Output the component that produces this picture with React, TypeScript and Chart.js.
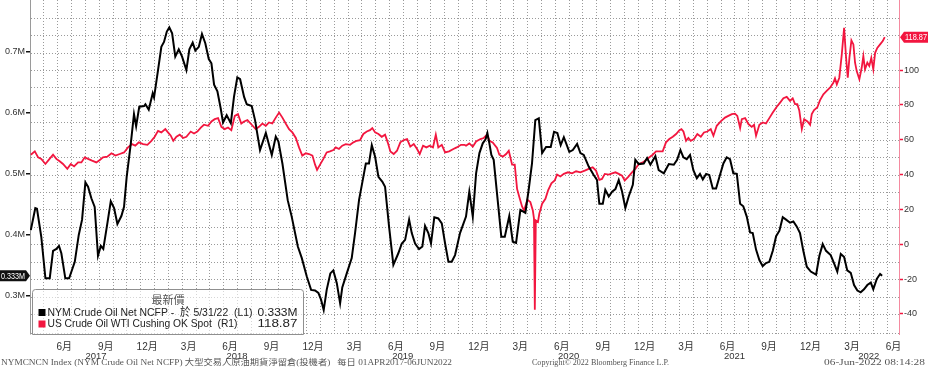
import React, { useEffect, useRef } from "react";
import { Chart, registerables } from "chart.js";
Chart.register(...registerables);

// ---- data (x in decimal years) ----
const ncfpDates = [
  2017.257, 2017.284, 2017.294, 2017.32, 2017.345, 2017.371, 2017.391, 2017.411, 2017.427, 2017.441,
  2017.465, 2017.488, 2017.522, 2017.546, 2017.566, 2017.586, 2017.602, 2017.622, 2017.642, 2017.662,
  2017.679, 2017.694, 2017.718, 2017.739, 2017.759, 2017.779, 2017.803, 2017.819, 2017.835, 2017.86,
  2017.879, 2017.892, 2017.911, 2017.94, 2017.948, 2017.968, 2017.992, 2018.0, 2018.024, 2018.044,
  2018.06, 2018.077, 2018.092, 2018.109, 2018.128, 2018.149, 2018.169, 2018.195, 2018.213, 2018.233,
  2018.249, 2018.27, 2018.289, 2018.309, 2018.33, 2018.346, 2018.362, 2018.382, 2018.402, 2018.416,
  2018.438, 2018.463, 2018.482, 2018.502, 2018.519, 2018.543, 2018.559, 2018.589, 2018.609, 2018.639,
  2018.674, 2018.71, 2018.734, 2018.75, 2018.774, 2018.806, 2018.83, 2018.867, 2018.891, 2018.921,
  2018.947, 2018.971, 2018.991, 2019.007, 2019.023, 2019.041, 2019.063, 2019.081, 2019.102, 2019.122,
  2019.135, 2019.162, 2019.192, 2019.212, 2019.236, 2019.262, 2019.277, 2019.296, 2019.313, 2019.333,
  2019.353, 2019.377, 2019.393, 2019.417, 2019.443, 2019.473, 2019.494, 2019.514, 2019.538, 2019.554,
  2019.574, 2019.598, 2019.618, 2019.634, 2019.654, 2019.67, 2019.69, 2019.714, 2019.735, 2019.755,
  2019.775, 2019.795, 2019.815, 2019.845, 2019.881, 2019.901, 2019.922, 2019.942, 2019.962, 2019.982,
  2019.998, 2020.01, 2020.022, 2020.034, 2020.048, 2020.068, 2020.094, 2020.115, 2020.142, 2020.163,
  2020.183, 2020.209, 2020.239, 2020.259, 2020.279, 2020.299, 2020.32, 2020.34, 2020.364, 2020.392,
  2020.412, 2020.432, 2020.452, 2020.471, 2020.504, 2020.525, 2020.551, 2020.571, 2020.591, 2020.621,
  2020.651, 2020.671, 2020.685, 2020.706, 2020.721, 2020.742, 2020.762, 2020.782, 2020.802, 2020.822,
  2020.842, 2020.862, 2020.887, 2020.902, 2020.923, 2020.953, 2020.973, 2020.993, 2021.023, 2021.043,
  2021.074, 2021.104, 2021.134, 2021.154, 2021.174, 2021.192, 2021.212, 2021.232, 2021.252, 2021.273,
  2021.292, 2021.309, 2021.329, 2021.348, 2021.369, 2021.389, 2021.409, 2021.433, 2021.453, 2021.473,
  2021.493, 2021.514, 2021.534, 2021.553, 2021.574, 2021.594, 2021.61, 2021.63, 2021.65, 2021.67,
  2021.69, 2021.71, 2021.731, 2021.751, 2021.771, 2021.791, 2021.811, 2021.835, 2021.855, 2021.875,
  2021.895, 2021.915, 2021.936, 2021.96, 2021.992, 2022.012, 2022.032, 2022.052, 2022.08, 2022.1,
  2022.12, 2022.141, 2022.161, 2022.18, 2022.201, 2022.221, 2022.241, 2022.261, 2022.281, 2022.301,
  2022.322, 2022.337, 2022.358, 2022.378, 2022.39,
];
const ncfpValues = [
  0.408, 0.444, 0.443, 0.397, 0.329, 0.329, 0.374, 0.377, 0.382, 0.37,
  0.329, 0.329, 0.356, 0.4, 0.425, 0.486, 0.479, 0.46, 0.446, 0.366,
  0.382, 0.377, 0.418, 0.455, 0.444, 0.418, 0.431, 0.446, 0.495, 0.55,
  0.598, 0.578, 0.61, 0.611, 0.614, 0.605, 0.632, 0.625, 0.67, 0.708,
  0.716, 0.733, 0.74, 0.73, 0.692, 0.704, 0.692, 0.67, 0.704, 0.715,
  0.702, 0.708, 0.729, 0.714, 0.688, 0.681, 0.646, 0.635, 0.607, 0.584,
  0.596, 0.583, 0.626, 0.658, 0.655, 0.626, 0.614, 0.611, 0.588, 0.539,
  0.567, 0.531, 0.561, 0.553, 0.517, 0.457, 0.43, 0.381, 0.362, 0.332,
  0.31, 0.309, 0.305, 0.294, 0.277, 0.31, 0.337, 0.342, 0.321, 0.288,
  0.314, 0.337, 0.362, 0.403, 0.457, 0.495, 0.517, 0.517, 0.547, 0.528,
  0.495, 0.487, 0.479, 0.414, 0.351, 0.37, 0.386, 0.392, 0.425, 0.403,
  0.386, 0.377, 0.381, 0.415, 0.403, 0.386, 0.429, 0.427, 0.419, 0.386,
  0.356, 0.356, 0.367, 0.403, 0.43, 0.471, 0.43, 0.501, 0.534, 0.55,
  0.556, 0.567, 0.55, 0.531, 0.523, 0.468, 0.397, 0.397, 0.431, 0.389,
  0.387, 0.441, 0.436, 0.474, 0.517, 0.588, 0.591, 0.534, 0.544, 0.544,
  0.569, 0.567, 0.547, 0.56, 0.536, 0.539, 0.549, 0.534, 0.531, 0.512,
  0.498, 0.49, 0.451, 0.451, 0.474, 0.463, 0.471, 0.475, 0.49, 0.471,
  0.444, 0.463, 0.482, 0.523, 0.516, 0.517, 0.526, 0.515, 0.529, 0.506,
  0.501, 0.516, 0.515, 0.523, 0.539, 0.527, 0.524, 0.531, 0.506, 0.493,
  0.5, 0.491, 0.5, 0.498, 0.476, 0.476, 0.495, 0.517, 0.527, 0.524,
  0.501, 0.5, 0.451, 0.447, 0.43, 0.404, 0.403, 0.376, 0.359, 0.349,
  0.354, 0.356, 0.374, 0.398, 0.407, 0.429, 0.425, 0.42, 0.422, 0.414,
  0.403, 0.374, 0.348, 0.34, 0.335, 0.366, 0.385, 0.374, 0.367, 0.354,
  0.34, 0.369, 0.364, 0.342, 0.338, 0.318, 0.309, 0.306, 0.311, 0.318,
  0.322, 0.311, 0.328, 0.336, 0.333,
];

const wtiDates = [
  2017.257, 2017.281, 2017.301, 2017.32, 2017.345, 2017.365, 2017.391, 2017.411, 2017.431, 2017.451,
  2017.477, 2017.498, 2017.518, 2017.542, 2017.562, 2017.582, 2017.602, 2017.626, 2017.652, 2017.673,
  2017.692, 2017.718, 2017.743, 2017.767, 2017.793, 2017.819, 2017.843, 2017.867, 2017.887, 2017.908,
  2017.934, 2017.96, 2017.984, 2018.004, 2018.024, 2018.044, 2018.068, 2018.084, 2018.101, 2018.116,
  2018.135, 2018.155, 2018.175, 2018.195, 2018.221, 2018.241, 2018.261, 2018.282, 2018.301, 2018.326,
  2018.346, 2018.366, 2018.386, 2018.406, 2018.426, 2018.446, 2018.466, 2018.487, 2018.506, 2018.526,
  2018.543, 2018.563, 2018.589, 2018.613, 2018.633, 2018.653, 2018.674, 2018.693, 2018.713, 2018.734,
  2018.754, 2018.774, 2018.794, 2018.814, 2018.834, 2018.855, 2018.874, 2018.894, 2018.915, 2018.935,
  2018.955, 2018.971, 2018.983, 2019.001, 2019.021, 2019.041, 2019.061, 2019.081, 2019.096, 2019.115,
  2019.135, 2019.156, 2019.182, 2019.202, 2019.222, 2019.242, 2019.262, 2019.283, 2019.302, 2019.316,
  2019.333, 2019.353, 2019.373, 2019.393, 2019.409, 2019.425, 2019.445, 2019.465, 2019.485, 2019.506,
  2019.526, 2019.545, 2019.566, 2019.586, 2019.602, 2019.622, 2019.642, 2019.662, 2019.682, 2019.699,
  2019.714, 2019.735, 2019.755, 2019.779, 2019.805, 2019.825, 2019.851, 2019.871, 2019.881, 2019.901,
  2019.922, 2019.942, 2019.968, 2019.988, 2020.008, 2020.022, 2020.042, 2020.068, 2020.082, 2020.103,
  2020.123, 2020.139, 2020.159, 2020.175, 2020.189, 2020.203, 2020.219, 2020.231, 2020.251, 2020.269,
  2020.284, 2020.291, 2020.296, 2020.302, 2020.315, 2020.323, 2020.34, 2020.36, 2020.376, 2020.396,
  2020.416, 2020.43, 2020.45, 2020.471, 2020.496, 2020.521, 2020.545, 2020.571, 2020.597, 2020.621,
  2020.645, 2020.665, 2020.685, 2020.701, 2020.718, 2020.742, 2020.762, 2020.782, 2020.802, 2020.822,
  2020.838, 2020.858, 2020.882, 2020.902, 2020.923, 2020.947, 2020.967, 2020.987, 2021.007, 2021.027,
  2021.047, 2021.067, 2021.087, 2021.107, 2021.128, 2021.148, 2021.168, 2021.18, 2021.192, 2021.208,
  2021.222, 2021.236, 2021.256, 2021.276, 2021.297, 2021.316, 2021.336, 2021.357, 2021.373, 2021.393,
  2021.417, 2021.443, 2021.463, 2021.484, 2021.503, 2021.517, 2021.534, 2021.544, 2021.564, 2021.584,
  2021.604, 2021.618, 2021.63, 2021.65, 2021.67, 2021.69, 2021.71, 2021.731, 2021.755, 2021.775,
  2021.795, 2021.815, 2021.835, 2021.851, 2021.865, 2021.879, 2021.891, 2021.906, 2021.92, 2021.94,
  2021.956, 2021.966, 2021.98, 2021.999, 2022.016, 2022.036, 2022.056, 2022.076, 2022.096, 2022.106,
  2022.117, 2022.132, 2022.147, 2022.161, 2022.173, 2022.183, 2022.193, 2022.205, 2022.217, 2022.227,
  2022.237, 2022.253, 2022.267, 2022.277, 2022.287, 2022.301, 2022.313, 2022.325, 2022.337, 2022.348,
  2022.361, 2022.378, 2022.394, 2022.406,
];
const wtiValues = [
  51.4, 53.3, 49.9, 49.0, 46.1, 48.4, 51.4, 49.0, 47.6, 46.1,
  43.3, 46.1, 44.7, 47.0, 47.0, 49.9, 49.0, 48.0, 47.0, 48.4,
  49.9, 50.3, 52.2, 50.9, 51.8, 52.7, 55.6, 57.5, 56.6, 58.5,
  57.5, 57.1, 59.4, 61.7, 65.1, 64.2, 66.1, 64.2, 62.3, 59.4,
  61.7, 62.9, 61.0, 61.7, 64.7, 63.6, 64.7, 67.0, 68.6, 68.0,
  70.5, 71.8, 72.4, 67.4, 66.1, 67.0, 65.5, 73.7, 74.7, 69.3,
  70.5, 71.3, 68.6, 66.1, 67.4, 69.3, 68.0, 69.9, 69.3, 72.7,
  75.6, 72.7, 69.3, 66.1, 64.2, 61.0, 55.6, 50.9, 52.2, 51.8,
  50.9, 45.7, 42.7, 45.7, 49.0, 52.7, 53.3, 54.1, 55.6, 54.7,
  56.6, 57.5, 57.1, 58.5, 59.4, 59.8, 63.3, 64.7, 65.5, 66.7,
  64.2, 63.3, 61.7, 62.9, 58.5, 53.3, 51.8, 53.7, 58.5, 59.8,
  60.4, 56.0, 57.5, 54.7, 51.8, 56.6, 55.6, 56.6, 55.6, 62.9,
  55.6, 57.1, 52.7, 53.3, 54.7, 55.6, 57.1, 57.1, 56.6, 57.9,
  56.0, 59.0, 60.4, 61.0, 62.9, 59.4, 58.5, 55.3, 51.4, 50.3,
  51.8, 53.7, 45.7, 45.7, 31.8, 27.0, 21.7, 19.4, 25.5, 24.2,
  19.4, 14.7, -37.6, 13.7, 12.8, 17.5, 23.3, 26.1, 30.9, 35.0,
  36.6, 40.0, 38.9, 40.4, 41.3, 40.7, 41.9, 41.3, 42.3, 43.3,
  44.2, 42.3, 37.0, 37.5, 40.4, 40.0, 40.7, 41.3, 40.4, 39.4,
  36.6, 38.5, 41.3, 43.3, 46.1, 47.0, 48.4, 49.9, 51.4, 53.3,
  53.3, 53.3, 58.5, 60.4, 61.7, 63.3, 65.5, 66.1, 64.7, 59.4,
  61.0, 59.4, 60.4, 63.3, 61.7, 64.2, 64.7, 66.1, 62.3, 68.0,
  70.5, 72.7, 73.7, 74.7, 75.0, 73.7, 66.7, 71.8, 72.4, 69.0,
  67.4, 68.6, 62.3, 68.6, 69.9, 69.3, 72.4, 75.6, 78.9, 81.3,
  83.8, 84.6, 82.3, 83.8, 80.4, 80.4, 76.6, 66.1, 71.8, 70.5,
  68.6, 74.7, 77.0, 78.5, 82.7, 86.1, 88.0, 89.9, 92.7, 95.3,
  91.8, 95.6, 109.0, 124.2, 107.0, 95.6, 107.0, 117.0, 114.7, 104.2,
  99.4, 94.7, 101.3, 108.0, 100.4, 104.2, 102.3, 107.0, 100.4, 109.9,
  112.7, 114.7, 116.6, 118.87,
];

const leftTicks = [0.3, 0.4, 0.5, 0.6, 0.7];
const rightGridTicks = [-40, -30, -20, -10, 0, 10, 20, 30, 40, 50, 60, 70, 80, 90, 100, 110, 120, 130];
const rightLabelTicks = [-40, -20, 0, 20, 40, 60, 80, 100];
const monthNames: Record<number, string> = { 3: "3月", 6: "6月", 9: "9月", 12: "12月" };
const yearTickValues = [2017.65, 2018.5, 2019.5, 2020.5, 2021.5, 2022.31];
const yearTickLabels = ["2017", "2018", "2019", "2020", "2021", "2022"];

const X_MIN = 2017.252;
const X_MAX = 2022.492;

const legendTitle = "最新價";
const legendRows = [
  { text: "NYM Crude Oil Net NCFP -  於 5/31/22  (L1)", value: "0.333M", color: "#000000", w: 205 },
  { text: "US Crude Oil WTI Cushing OK Spot  (R1)", value: "118.87", color: "#f2163f", w: 190 },
];
const footerLeft = "NYMCNCN Index (NYM Crude Oil Net NCFP) 大型交易人原油期貨淨留倉(投機者)   每日 01APR2017-06JUN2022";
const footerMid = "Copyright© 2022 Bloomberg Finance L.P.";
const footerRight = "06-Jun-2022 08:14:28";

const SANS = '"Liberation Sans", "Noto Sans CJK TC", sans-serif';
const SERIF = '"Liberation Serif", "Noto Sans CJK TC", serif';
const RED = "#f2163f";
const GRID = "#9a9a9a";

function buildXTicks() {
  const ticks: any[] = [];
  for (let y = 2017; y <= 2022; y++) {
    for (let m = 1; m <= 12; m++) {
      const start = y + (m - 1) / 12;
      if (start >= X_MIN && start <= X_MAX) ticks.push({ value: start, kind: "grid", lbl: "" });
      if (monthNames[m]) {
        const mid = y + (m - 0.5) / 12;
        if (mid >= X_MIN && mid <= X_MAX) ticks.push({ value: mid, kind: "label", lbl: monthNames[m] });
      }
    }
  }
  return ticks.sort((a, b) => a.value - b.value);
}

// draw text stretched/compressed horizontally to an exact width
function textToWidth(ctx: CanvasRenderingContext2D, text: string, x: number, y: number, width: number) {
  const w = ctx.measureText(text).width || 1;
  const k = width / w;
  ctx.save();
  ctx.translate(x, y);
  ctx.scale(k, 1);
  ctx.textAlign = "left";
  ctx.fillText(text, 0, 0);
  ctx.restore();
}

function badge(ctx: CanvasRenderingContext2D, tipX: number, y: number, bodyX0: number, bodyX1: number, dir: number, fill: string, text: string) {
  const h = 11;
  ctx.beginPath();
  if (dir > 0) {
    ctx.moveTo(bodyX0, y - h / 2);
    ctx.lineTo(bodyX1, y - h / 2);
    ctx.lineTo(tipX, y);
    ctx.lineTo(bodyX1, y + h / 2);
    ctx.lineTo(bodyX0, y + h / 2);
  } else {
    ctx.moveTo(bodyX1, y - h / 2);
    ctx.lineTo(bodyX0, y - h / 2);
    ctx.lineTo(tipX, y);
    ctx.lineTo(bodyX0, y + h / 2);
    ctx.lineTo(bodyX1, y + h / 2);
  }
  ctx.closePath();
  ctx.fillStyle = fill;
  ctx.fill();
  ctx.fillStyle = "#ffffff";
  ctx.font = "9.5px " + SANS;
  ctx.textBaseline = "middle";
  textToWidth(ctx, text, bodyX0 + 1, y + 0.5, bodyX1 - bodyX0 - 2);
}

// dotted grid positioned by the chart's own scales (1px dots every 3px)
const gridPlugin = {
  id: "dotGrid",
  beforeDatasetsDraw(chart: any) {
    const ctx: CanvasRenderingContext2D = chart.ctx;
    const a = chart.chartArea;
    const xs = chart.scales.x;
    const yR = chart.scales.yR;
    const L = Math.round(a.left), R = Math.round(a.right), T = Math.round(a.top), B = Math.round(a.bottom);
    ctx.save();
    ctx.fillStyle = GRID;
    for (const t of xs.ticks as any[]) {
      if (t.kind !== "grid") continue;
      const px = Math.round(xs.getPixelForValue(t.value));
      for (let y = T; y < B; y += 3) ctx.fillRect(px, y, 1, 1);
    }
    const rows: number[] = (yR.ticks as any[]).map((t) => Math.round(yR.getPixelForValue(t.value)));
    rows.push(B - 1);
    for (const py of rows) {
      for (let x = L + 1; x < R; x += 3) ctx.fillRect(x, py, 1, 1);
    }
    ctx.restore();
  },
};

const overlayPlugin = {
  id: "overlay",
  afterDraw(chart: any) {
    const ctx: CanvasRenderingContext2D = chart.ctx;
    const a = chart.chartArea;
    const yL = chart.scales.yL;
    const yR = chart.scales.yR;
    ctx.save();

    // legend box
    const bx0 = a.left + 2.5, bx1 = a.left + 273.5, by0 = a.bottom - 44.5, by1 = a.bottom + 0.5;
    ctx.beginPath();
    const r = 3;
    ctx.moveTo(bx0 + r, by0);
    ctx.lineTo(bx1 - r, by0);
    ctx.quadraticCurveTo(bx1, by0, bx1, by0 + r);
    ctx.lineTo(bx1, by1);
    ctx.lineTo(bx0, by1);
    ctx.lineTo(bx0, by0 + r);
    ctx.quadraticCurveTo(bx0, by0, bx0 + r, by0);
    ctx.fillStyle = "rgba(255,255,255,0.6)";
    ctx.fill();
    ctx.strokeStyle = "#8f8f8f";
    ctx.lineWidth = 1;
    ctx.stroke();

    ctx.font = "11px " + SANS;
    ctx.textBaseline = "middle";
    ctx.textAlign = "center";
    ctx.fillStyle = "#555";
    ctx.fillText(legendTitle, (bx0 + bx1) / 2, by0 + 11);
    legendRows.forEach((row, i) => {
      const cy = by0 + 23 + i * 11.5;
      ctx.fillStyle = row.color;
      ctx.fillRect(bx0 + 6, cy - 3.5, 7, 7);
      ctx.fillStyle = "#222";
      textToWidth(ctx, row.text, bx0 + 15, cy, row.w);
      textToWidth(ctx, row.value, bx1 - 6 - 40, cy, 40);
    });

    // last value badges
    const lastL = ncfpValues[ncfpValues.length - 1];
    const lastR = wtiValues[wtiValues.length - 1];
    badge(ctx, a.left, yL.getPixelForValue(lastL), 0, a.left - 4, 1, "#111111", "0.333M");
    badge(ctx, a.right + 1, yR.getPixelForValue(lastR), a.right + 5, chart.width, -1, RED, "118.87");

    // footer
    ctx.fillStyle = "#555";
    ctx.textBaseline = "middle";
    ctx.font = "8.5px " + SERIF;
    const fy = chart.height - 4;
    textToWidth(ctx, footerLeft, 1, fy, 451);
    textToWidth(ctx, footerMid, 532, fy, 137);
    textToWidth(ctx, footerRight, 824, fy, 101);
    ctx.restore();
  },
};

const noPadY = (w: number) => (s: any) => {
  s.width = w;
  s.paddingTop = 0;
  s.paddingBottom = 0;
};
const noPadX = (h: number) => (s: any) => {
  s.height = h;
  s.paddingLeft = 0;
  s.paddingRight = 0;
};

export default function App() {
  const ref = useRef<HTMLCanvasElement | null>(null);
  useEffect(() => {
    if (!ref.current) return;
    const xTicks = buildXTicks();
    const chart = new Chart(ref.current, {
      type: "line",
      data: {
        datasets: [
          {
            label: "NYM Crude Oil Net NCFP",
            data: ncfpDates.map((x, i) => ({ x, y: ncfpValues[i] })),
            xAxisID: "x",
            yAxisID: "yL",
            borderColor: "#000000",
            borderWidth: 2,
            pointRadius: 0,
            tension: 0,
          },
          {
            label: "US Crude Oil WTI Cushing OK Spot",
            data: wtiDates.map((x, i) => ({ x, y: wtiValues[i] })),
            xAxisID: "x",
            yAxisID: "yR",
            borderColor: RED,
            borderWidth: 1.8,
            pointRadius: 0,
            tension: 0,
          },
        ],
      },
      options: {
        responsive: false,
        animation: false,
        devicePixelRatio: 1,
        layout: { padding: { left: 0, right: 0, top: 0, bottom: 6 } },
        plugins: { legend: { display: false }, tooltip: { enabled: false } },
        scales: {
          x: {
            type: "linear",
            position: "bottom",
            weight: 0,
            min: X_MIN,
            max: X_MAX,
            afterBuildTicks: (s: any) => {
              s.ticks = xTicks.map((t) => ({ ...t }));
            },
            afterFit: noPadX(17),
            grid: { display: false, drawTicks: false },
            border: { display: false },
            ticks: {
              autoSkip: false,
              maxRotation: 0,
              padding: 7,
              color: "#333",
              font: { size: 10, family: SANS },
              callback: (_v: any, i: number, ticks: any[]) => (ticks[i] && ticks[i].lbl) || "",
            },
          },
          xYear: {
            type: "linear",
            position: "bottom",
            weight: 1,
            min: X_MIN,
            max: X_MAX,
            afterBuildTicks: (s: any) => {
              s.ticks = yearTickValues.map((v, i) => ({ value: v, lbl: yearTickLabels[i] }));
            },
            afterFit: noPadX(10),
            grid: { display: false, drawTicks: false },
            border: { display: false },
            ticks: {
              autoSkip: false,
              maxRotation: 0,
              padding: 0,
              color: "#333",
              font: { size: 9.5, family: SANS },
              callback: (_v: any, i: number, ticks: any[]) => (ticks[i] && ticks[i].lbl) || "",
            },
          },
          yL: {
            type: "linear",
            position: "left",
            min: 0.2378,
            max: 0.7847,
            afterBuildTicks: (s: any) => {
              s.ticks = leftTicks.map((v) => ({ value: v }));
            },
            afterFit: noPadY(30),
            grid: { drawOnChartArea: false, color: "#111", tickLength: 4, lineWidth: 1.5 },
            border: { color: "#9a9a9a", width: 1 },
            ticks: {
              padding: 1,
              color: "#333",
              font: { size: 9, family: SANS },
              callback: (v: any) => Number(v).toFixed(1) + "M",
            },
          },
          yR: {
            type: "linear",
            position: "right",
            min: -51.5,
            max: 140.2,
            afterBuildTicks: (s: any) => {
              s.ticks = rightGridTicks.map((v) => ({ value: v }));
            },
            afterFit: noPadY(29),
            grid: {
              drawOnChartArea: false,
              color: "rgba(0,0,0,0)",
              lineWidth: 1,
              tickLength: 4,
              tickColor: (c: any) =>
                c.tick && rightLabelTicks.includes(c.tick.value) ? RED : "rgba(0,0,0,0)",
              tickWidth: 1.5,
            },
            border: { color: "#f58aa0", width: 1 },
            ticks: {
              padding: 1,
              color: "#333",
              autoSkip: false,
              font: { size: 9, family: SANS },
              callback: (v: any) => (rightLabelTicks.includes(Number(v)) ? String(v) : ""),
            },
          },
        },
      } as any,
      plugins: [gridPlugin, overlayPlugin],
    });
    return () => chart.destroy();
  }, []);
  return (
    <div style={{ position: "absolute", left: 0, top: 0, width: 928, height: 367, background: "#fff" }}>
      <canvas ref={ref} width={928} height={367} style={{ width: 928, height: 367, display: "block" }} />
    </div>
  );
}
